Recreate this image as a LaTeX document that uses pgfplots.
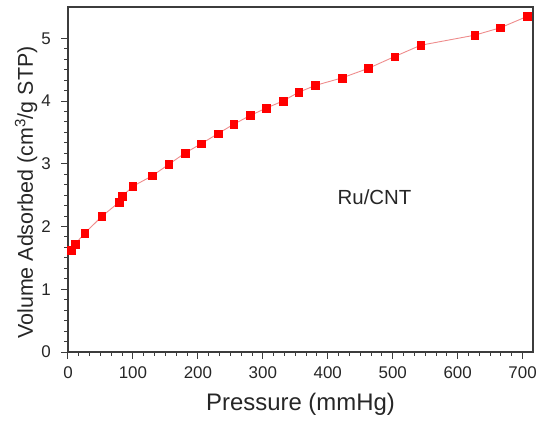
\documentclass[border=0pt]{standalone}
\usepackage{fontspec}
\setmainfont{Liberation Sans}
\usepackage{pgfplots}
\pgfplotsset{compat=1.18}
\usetikzlibrary{calc}
\definecolor{ptred}{RGB}{255,0,0}
\definecolor{lnred}{RGB}{238,140,140}
\definecolor{axgray}{RGB}{60,60,60}
\begin{document}
\begin{tikzpicture}
\begin{axis}[
  scale only axis, width=465bp, height=345bp,
  xmin=0, xmax=716, ymin=0, ymax=5.5,
  xtick={0,100,...,700}, ytick={0,1,...,5},
  minor tick num=5,
  tick align=outside, tick pos=left,
  major tick length=6.7bp, minor tick length=3.6bp,
  axis line style={draw=axgray, line width=1.2bp},
  every tick/.style={draw=axgray, line width=1bp},
  /pgf/number format/assume math mode=true,
  ticklabel style={font=\fontsize{17}{17}\selectfont, text=black!85},
  xticklabel style={yshift=-4bp},
  yticklabel style={xshift=-7bp},
  xlabel={Pressure (mmHg)},
  ylabel={Volume Adsorbed (cm\textsuperscript{3}/g STP)},
  xlabel style={font=\fontsize{24}{24}\selectfont, text=black!85, at={($(rel axis cs:0.5,0)+(0,-58bp)$)}, anchor=base},
  ylabel style={font=\fontsize{21.5}{21.5}\selectfont, text=black!85, at={($(rel axis cs:0,0.5)+(-35bp,-13bp)$)}, anchor=base},
  clip=false,
]
\addplot[color=lnred, line width=0.9bp, mark=square*, mark size=3.9bp,
  mark options={fill=ptred, draw=ptred, line width=0.3bp}] coordinates {
  (4.6,1.63) (10.8,1.72) (25.6,1.89) (51.8,2.16) (79,2.39) (83.6,2.48)
  (99.5,2.64) (130,2.81) (155,2.99) (180,3.17) (205,3.32) (230.8,3.48)
  (255,3.63) (280.5,3.77) (305.6,3.89) (330.8,4.00) (355,4.14) (381,4.25)
  (422,4.37) (462,4.52) (503,4.71) (543,4.89) (626,5.05) (666,5.17) (707,5.35)
};
\node[font=\fontsize{20.5}{20.5}\selectfont, text=black!85] at (axis cs:472,2.47) {Ru/CNT};
\coordinate (o) at (rel axis cs:0,0);
\end{axis}
\pgfresetboundingbox
\path[use as bounding box] ([shift={(-68bp,-69bp)}]o) rectangle ++(541bp,421bp);
\end{tikzpicture}
\end{document}
